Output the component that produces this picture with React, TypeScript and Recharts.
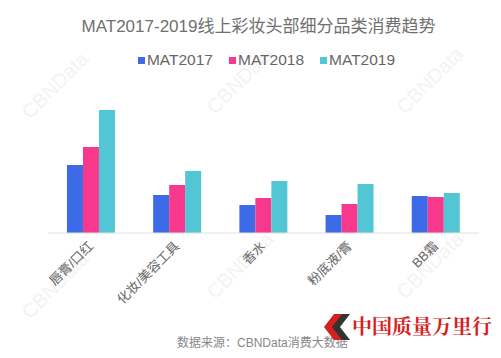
import React from 'react';
import { BarChart, Bar, XAxis, YAxis } from 'recharts';

const categories = ['唇膏/口红', '化妆/美容工具', '香水', '粉底液/膏', 'BB霜'];
const mat2017 = [68, 38, 28, 18, 37];
const mat2018 = [86, 48, 35, 29, 36];
const mat2019 = [123, 62, 52, 49, 40];

const seriesNames = ['MAT2017', 'MAT2018', 'MAT2019'];
const colors = ['#3d6be8', '#f7388c', '#52c6d4'];

const data = categories.map((name, i) => ({
  name,
  MAT2017: mat2017[i],
  MAT2018: mat2018[i],
  MAT2019: mat2019[i],
}));

const font = '"Liberation Sans", "Noto Sans CJK SC", sans-serif';

const AngledTick = (props: any) => {
  const { x, y, payload } = props;
  return (
    <text
      x={x + 3}
      y={y + 6}
      transform={`rotate(-45, ${x + 3}, ${y + 6})`}
      textAnchor="end"
      fill="#666"
      fontSize={13}
      fontFamily={font}
    >
      {payload.value}
    </text>
  );
};

// faint CBNData watermarks
const marks = [
  [30, 120], [215, 115], [405, 115],
  [30, 320], [215, 300], [405, 300],
];

const App = () => {
  return (
    <div style={{ position: 'relative', width: 501, height: 358, background: '#fff', overflow: 'hidden' }}>
      <style>{'body{margin:0}'}</style>
      <svg width={501} height={358} style={{ position: 'absolute', left: 0, top: 0 }}>
        {marks.map(([x, y], i) => (
          <text
            key={i}
            x={x}
            y={y}
            transform={`rotate(-45, ${x}, ${y})`}
            fill="#f3f3f3"
            fontSize={20}
            fontFamily={font}
          >
            CBNData
          </text>
        ))}
      </svg>
      <div style={{ position: 'absolute', left: 0, top: 0 }}>
        <BarChart
          width={501}
          height={358}
          data={data}
          margin={{ top: 103, right: 22, bottom: 45, left: 48 }}
          barCategoryGap="22%"
          barGap={0}
        >
          <XAxis
            dataKey="name"
            axisLine={{ stroke: '#e0e0e0' }}
            tickLine={false}
            tick={<AngledTick />}
            interval={0}
            height={80}
          />
          <YAxis hide domain={[0, 130]} />
          {seriesNames.map((s, i) => (
            <Bar key={s} dataKey={s} fill={colors[i]} isAnimationActive={false} />
          ))}
        </BarChart>
      </div>
      <div
        style={{
          position: 'absolute', top: 12, left: 8, width: 501, textAlign: 'center',
          fontFamily: font, fontSize: 17, color: '#707070',
        }}
      >
        MAT2017-2019线上彩妆头部细分品类消费趋势
      </div>
      <div
        style={{
          position: 'absolute', top: 51, left: 16, width: 501, display: 'flex',
          justifyContent: 'center', gap: 16, fontFamily: font, fontSize: 15.5, color: '#666',
        }}
      >
        {seriesNames.map((s, i) => (
          <span key={s} style={{ display: 'flex', alignItems: 'center' }}>
            <span style={{ width: 7, height: 7, background: colors[i], display: 'inline-block', marginRight: 2 }} />
            {s}
          </span>
        ))}
      </div>
      <div
        style={{
          position: 'absolute', top: 333, left: 177, fontFamily: font, fontSize: 12, color: '#888',
        }}
      >
        数据来源：CBNData消费大数据
      </div>
      <svg width={30} height={30} style={{ position: 'absolute', left: 322, top: 312 }}>
        <polygon points="12,2 22,2 12,15 22,28 12,28 2,15" fill="#d42020" />
        <polygon points="20,2 28,2 18,15 28,28 20,28 10,15" fill="#333" />
      </svg>
      <div
        style={{
          position: 'absolute', top: 311, left: 352, fontFamily: '"Noto Serif CJK SC", "Noto Sans CJK SC", serif',
          fontSize: 20, fontWeight: 700, color: '#d81e1e', letterSpacing: 0,
        }}
      >
        中国质量万里行
      </div>
    </div>
  );
};

export default App;
